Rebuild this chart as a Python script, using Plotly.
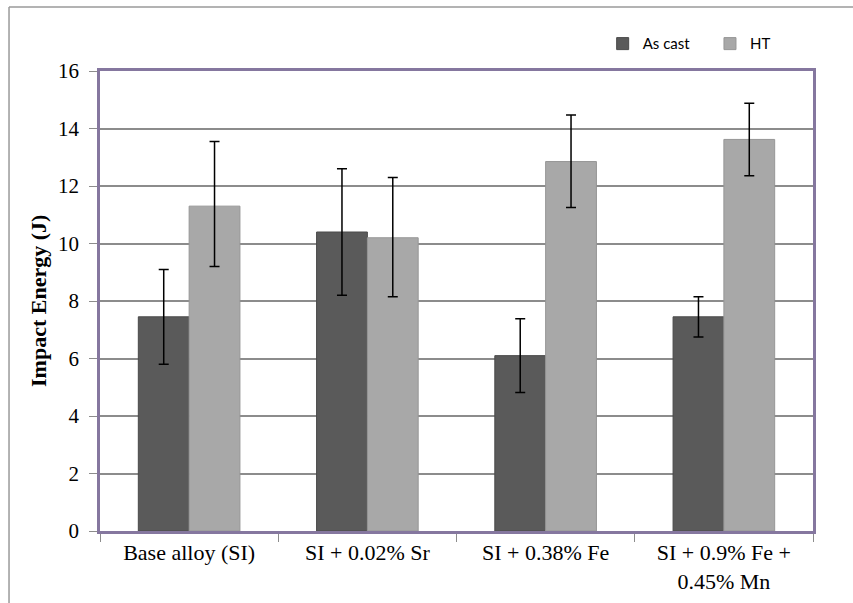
import plotly.graph_objects as go

categories = ["Base alloy (SI)", "SI + 0.02% Sr", "SI + 0.38% Fe", "SI + 0.9% Fe +<br>0.45% Mn"]
as_cast = [7.45, 10.4, 6.1, 7.45]
as_cast_err = [1.65, 2.2, 1.28, 0.7]
ht = [11.3, 10.2, 12.85, 13.62]
ht_err_plus = [2.25, 2.1, 1.62, 1.26]
ht_err_minus = [2.1, 2.05, 1.6, 1.26]
y_ticks = [0, 2, 4, 6, 8, 10, 12, 14, 16]

purple = "#85779f"
grid = "#8c8c8c"

fig = go.Figure()
fig.add_trace(go.Bar(
    name="As cast", x=categories, y=as_cast, legend="legend",
    marker=dict(color="#5a5a5a", line=dict(color="#4a4a4a", width=1)),
    error_y=dict(type="data", array=as_cast_err, color="black", thickness=1.5, width=5),
))
fig.add_trace(go.Bar(
    name="HT", x=categories, y=ht, legend="legend2",
    marker=dict(color="#a8a8a8", line=dict(color="#969696", width=1)),
    error_y=dict(type="data", array=ht_err_plus, arrayminus=ht_err_minus,
                 color="black", thickness=1.5, width=5),
))

legend_font = dict(family="Lato", size=15, color="black")
fig.update_layout(
    width=853, height=603,
    margin=dict(l=100, r=40, t=71, b=72, autoexpand=False),
    paper_bgcolor="white", plot_bgcolor="white",
    barmode="group", bargap=0.43, bargroupgap=0,
    font=dict(family="Liberation Serif", size=21, color="black"),
    legend=dict(orientation="h", x=0.705, y=1.059, xanchor="left", yanchor="middle",
                font=legend_font, bgcolor="rgba(0,0,0,0)"),
    legend2=dict(orientation="h", x=0.8555, y=1.059, xanchor="left", yanchor="middle",
                 font=legend_font, bgcolor="rgba(0,0,0,0)"),
    showlegend=True,
)
fig.update_yaxes(
    range=[0, 16], tickvals=y_ticks, showgrid=True, gridcolor=grid, gridwidth=1.5,
    showline=True, linecolor=purple, linewidth=2.5, mirror=True, automargin=False,
    ticks="outside", ticklen=8, tickcolor=grid, zeroline=False, ticklabelstandoff=6,
    tickfont=dict(family="Liberation Serif", size=21),
)
fig.update_xaxes(
    showline=True, linecolor=purple, linewidth=2.5, mirror=True, automargin=False,
    ticks="outside", ticklen=8, tickcolor=grid, tickson="boundaries",
    tickfont=dict(family="Liberation Serif", size=22),
)

fig.add_annotation(text="<b>Impact Energy (J)</b>", xref="paper", yref="paper",
                   x=-0.087, y=0.5, textangle=-90, showarrow=False,
                   xanchor="center", yanchor="middle",
                   font=dict(family="Liberation Serif", size=22, color="black"))

# outer chart border (top and left)
fig.add_shape(type="line", xref="paper", yref="paper", x0=-0.1276, x1=1.1, y0=1.139, y1=1.139,
              line=dict(color="#9a9a9a", width=1.5))
fig.add_shape(type="line", xref="paper", yref="paper", x0=-0.1276, x1=-0.1276, y0=1.139, y1=-0.16,
              line=dict(color="#9a9a9a", width=1.5))

fig.write_html("out.html", config={"displayModeBar": False},
               post_script="document.body.style.margin='0';document.body.style.overflow='hidden';")
